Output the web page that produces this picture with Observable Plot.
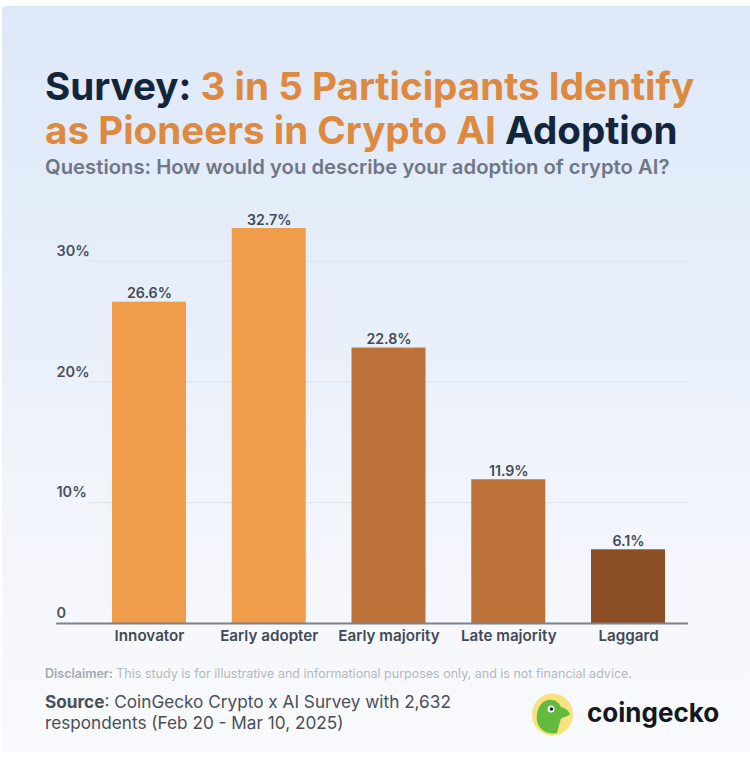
<!DOCTYPE html>
<html>
<head>
<meta charset="utf-8">
<script src="https://cdn.jsdelivr.net/npm/d3@7"></script>
<script src="https://cdn.jsdelivr.net/npm/@observablehq/plot@0.6"></script>
<style>
html,body{margin:0;padding:0;background:#fff;}
body{width:750px;height:760px;overflow:hidden;font-family:Inter,sans-serif;}
#card{position:absolute;left:2px;top:6px;width:748px;height:746px;background:linear-gradient(180deg,#dde8f8 0%,#e6eefa 35%,#f2f5fb 70%,#f9fafc 100%);border-radius:4px 0 0 4px;}
.t{position:absolute;white-space:nowrap;}
#title{left:45px;top:65px;font-size:38.6px;line-height:43.5px;font-weight:700;color:#13253b;}
#title span{color:#dd8a40;}
#sub{left:45px;top:155px;font-size:20.3px;line-height:24px;font-weight:600;color:#6f7785;}
#dis{left:45px;top:666px;font-size:12.5px;line-height:16px;color:#b4b8bf;}
#dis b{font-weight:600;color:#a4a9b1;}
#src{left:45px;top:691px;font-size:17.2px;line-height:21px;color:#4a4f58;}
#src b{font-weight:700;}
#chart{position:absolute;left:0;top:200px;}
#brand{left:587px;top:697px;font-size:26px;line-height:32px;font-weight:700;color:#14171f;}
#logo{position:absolute;left:531px;top:693px;}
</style>
</head>
<body>
<div id="card"></div>
<div class="t" id="title">Survey: <span>3 in 5 Participants Identify</span><br><span>as Pioneers in Crypto AI</span> Adoption</div>
<div class="t" id="sub">Questions: How would you describe your adoption of crypto AI?</div>
<div id="chart"></div>
<div class="t" id="dis"><b>Disclaimer:</b> This study is for illustrative and informational purposes only, and is not financial advice.</div>
<div class="t" id="src"><b>Source</b>: CoinGecko Crypto x AI Survey with 2,632<br>respondents (Feb 20 - Mar 10, 2025)</div>
<svg id="logo" width="44" height="44" viewBox="0 0 44 44">
  <ellipse cx="21.500" cy="21.500" rx="20.500" ry="21" fill="#f7e27e"/>
  <path d="M6 28 C5 17 9 9 17 7 C24 6 28 10 30 14 C34 15 38 18 39 21 C36 24 32 24 30 26 C28 31 27 36 26 40 C18 42 8 38 6 28Z" fill="#62bb3c"/>
  <circle cx="20" cy="16" r="3.500" fill="#fff"/><circle cx="20.500" cy="16" r="1.800" fill="#1c2430"/>
</svg>
<div class="t" id="brand">coingecko</div>
<script>
const categories = ["Innovator","Early adopter","Early majority","Late majority","Laggard"];
const shares = [26.6,32.7,22.8,11.9,6.1];
const barColors = ["#f09d4b","#f09d4b","#bc7238","#bc7238","#8c4e24"];
const yTicks = [10,20,30];
const yLabels = [0,10,20,30];
const valueLabels = ["26.6%","32.7%","22.8%","11.9%","6.1%"];
const rows = categories.map((c,i)=>({c,v:shares[i],color:barColors[i],label:valueLabels[i]}));

const plot = Plot.plot({
  width:750,
  height:470,
  marginTop:10,
  marginBottom:47,
  marginLeft:89.1,
  marginRight:62.1,
  style:{background:"transparent",fontFamily:"Inter,sans-serif"},
  x:{domain:categories,padding:0.382,paddingOuter:0.191,round:false,label:null,tickSize:0},
  y:{domain:[0,34.19],range:[423,10],label:null,ticks:[]},
  marks:[
    Plot.ruleY(yTicks,{stroke:"#dfe3ea",strokeWidth:1}),
    Plot.barY(rows,{x:"c",y:"v",fill:"color"}),
    Plot.text(rows,{x:"c",y:"v",text:"label",dy:-8.500,fontSize:14.200,fontWeight:600,fill:"#434a56"}),
    Plot.text(yLabels,{x:()=>categories[0],y:d=>d,dx:-93,dy:-10,textAnchor:"start",text:d=>d===0?"0":d+"%",fontSize:14.500,fontWeight:600,fill:"#4a505b"}),
    Plot.ruleY([0],{insetLeft:-33,stroke:"#7d828b",strokeWidth:2}),
    Plot.axisX({tickSize:0,tickPadding:7,fontSize:15.200,fontWeight:600,fill:"#434a56",label:null})
  ]
});
document.getElementById("chart").appendChild(plot);
</script>
</body>
</html>
